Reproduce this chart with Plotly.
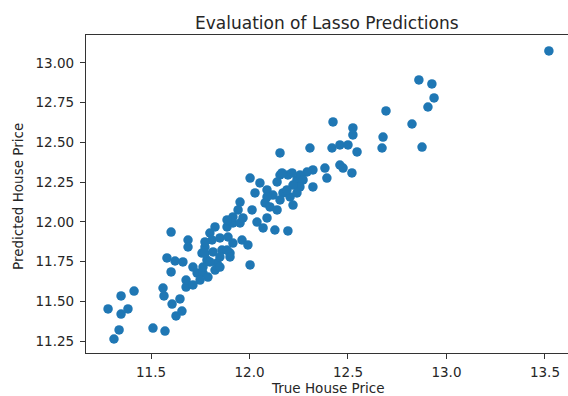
import plotly.graph_objects as go

true_price = [
    11.282, 11.312, 11.338, 11.348, 11.348, 11.383, 11.414, 11.510, 11.571, 11.561,
    11.566, 11.607, 11.627, 11.657, 11.647, 11.602, 11.581, 11.622, 11.662, 11.602,
    11.678, 11.678, 11.688, 11.688, 11.713, 11.734, 11.764, 11.789, 11.749, 11.713,
    11.774, 11.799, 11.825, 11.810, 11.850, 11.860, 11.835, 11.825, 11.901, 11.886,
    11.916, 11.952, 11.962, 11.992, 12.003, 11.891, 11.850, 11.784, 11.759, 12.003,
    12.053, 12.155, 12.195, 12.241, 12.140, 12.028, 12.089, 12.119, 12.170, 12.206,
    11.952, 12.079, 12.104, 12.140, 12.013, 11.942, 11.916, 11.886, 11.967, 12.038,
    12.089, 12.069, 12.129, 12.195, 11.774, 11.916, 11.886, 11.774, 11.815, 11.850,
    11.901, 11.799, 11.764, 12.424, 12.525, 12.525, 12.155, 12.307, 12.419, 12.459,
    12.500, 12.546, 12.459, 12.475, 12.520, 12.383, 12.393, 12.322, 12.292, 12.256,
    12.216, 12.165, 12.272, 12.322, 12.256, 12.221, 12.190, 12.089, 12.155, 12.221,
    12.241, 12.693, 12.825, 12.860, 12.926, 12.937, 12.906, 12.678, 12.673, 12.876,
    13.520,
]
predicted_price = [
    11.452, 11.263, 11.320, 11.534, 11.420, 11.452, 11.565, 11.332, 11.313, 11.584,
    11.534, 11.483, 11.408, 11.439, 11.515, 11.936, 11.773, 11.754, 11.748, 11.685,
    11.590, 11.634, 11.886, 11.842, 11.716, 11.678, 11.678, 11.653, 11.634, 11.603,
    11.842, 11.930, 11.968, 11.886, 11.899, 11.823, 11.741, 11.697, 11.804, 11.968,
    11.993, 11.993, 11.886, 11.855, 11.729, 11.905, 11.716, 11.760, 11.804, 12.276,
    12.245, 12.295, 12.295, 12.264, 12.251, 12.182, 12.201, 12.169, 12.182, 12.157,
    12.125, 12.119, 12.094, 12.075, 12.075, 12.075, 12.031, 12.012, 12.025, 11.999,
    12.025, 11.962, 11.949, 11.943, 11.874, 11.867, 11.823, 11.804, 11.811, 11.779,
    11.779, 11.748, 11.716, 12.629, 12.591, 12.547, 12.434, 12.465, 12.465, 12.484,
    12.484, 12.440, 12.358, 12.339, 12.308, 12.339, 12.276, 12.327, 12.314, 12.295,
    12.308, 12.308, 12.264, 12.220, 12.220, 12.232, 12.201, 12.157, 12.138, 12.106,
    12.182, 12.698, 12.616, 12.893, 12.868, 12.780, 12.723, 12.534, 12.465, 12.471,
    13.076,
]

x_ticks = [11.5, 12.0, 12.5, 13.0, 13.5]
x_tick_labels = ["11.5", "12.0", "12.5", "13.0", "13.5"]
y_ticks = [11.25, 11.5, 11.75, 12.0, 12.25, 12.5, 12.75, 13.0]
y_tick_labels = ["11.25", "11.50", "11.75", "12.00", "12.25", "12.50", "12.75", "13.00"]

title_text = "Evaluation of Lasso Predictions"
x_label = "True House Price"
y_label = "Predicted House Price"

FONT = "DejaVu Sans"
TXT = "#262626"
LINE = "#333333"

fig = go.Figure()
fig.add_trace(go.Scatter(
    x=true_price, y=predicted_price, mode="markers",
    marker=dict(size=9.5, color="#1f77b4", line=dict(width=0)),
    showlegend=False, hoverinfo="skip",
))

axis_common = dict(
    showgrid=False, zeroline=False, showline=True, linecolor=LINE, linewidth=1.3,
    ticks="outside", ticklen=5, tickwidth=1.2, tickcolor=LINE, automargin=False,
    tickfont=dict(family=FONT, size=13.5, color=TXT),
)

fig.update_layout(
    width=568, height=396,
    margin=dict(l=86, r=0, t=35, b=43, autoexpand=False),
    paper_bgcolor="white", plot_bgcolor="white",
    font=dict(family=FONT, color=TXT),
    xaxis=dict(range=[11.170, 13.617], tickvals=x_ticks, ticktext=x_tick_labels,
               mirror=True, ticklabelstandoff=2, **axis_common),
    yaxis=dict(range=[11.175, 13.176], tickvals=y_ticks, ticktext=y_tick_labels,
               mirror=False, ticklabelstandoff=3, **axis_common),
    annotations=[
        dict(text=title_text, xref="paper", yref="paper", x=0.501, y=1.0393,
             xanchor="center", yanchor="middle", showarrow=False,
             font=dict(family=FONT, size=17, color=TXT)),
        dict(text=x_label, xref="paper", yref="paper", x=0.503, y=-0.109,
             xanchor="center", yanchor="middle", showarrow=False,
             font=dict(family=FONT, size=13.5, color=TXT)),
        dict(text=y_label, xref="paper", yref="paper", x=-0.1411, y=0.4937,
             xanchor="center", yanchor="middle", showarrow=False, textangle=-90,
             font=dict(family=FONT, size=13.5, color=TXT)),
    ],
)

fig.write_html(
    "out.html",
    config={"displayModeBar": False},
    post_script="document.body.style.margin='0px';document.body.style.overflow='hidden';",
)
